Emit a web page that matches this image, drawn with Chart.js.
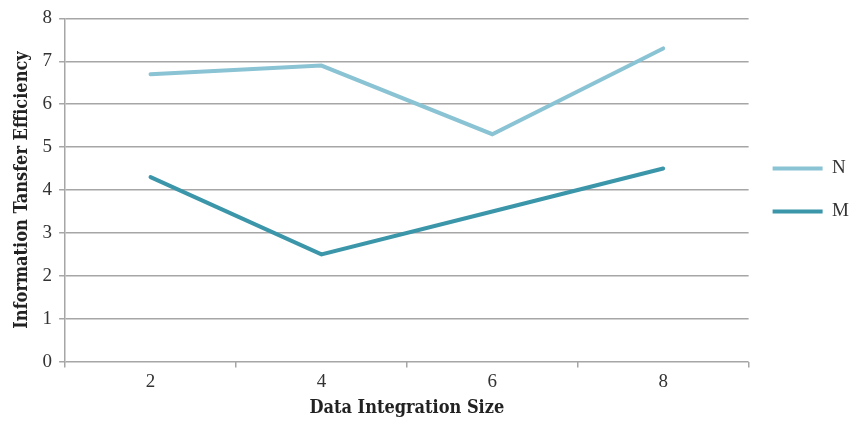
<!DOCTYPE html>
<html>
<head>
<meta charset="utf-8">
<script src="https://cdn.jsdelivr.net/npm/chart.js@4/dist/chart.umd.min.js"></script>
<style>
  html, body { margin: 0; padding: 0; background: #fff; }
  #wrap { width: 859px; height: 423px; }
</style>
</head>
<body>
<div id="wrap"><canvas id="c" width="859" height="423"></canvas></div>
<script>
const categories = ['2', '4', '6', '8'];
const seriesN = [6.7, 6.9, 5.3, 7.3];
const seriesM = [4.3, 2.5, 3.5, 4.5];
const yTicks = [0, 1, 2, 3, 4, 5, 6, 7, 8];

const TICK_FONT = '"Liberation Serif", serif';
const TITLE_FONT = '"DejaVu Serif Condensed", "DejaVu Serif", serif';
const GRID = '#a6a6a6';

new Chart(document.getElementById('c'), {
  type: 'line',
  data: {
    labels: categories,
    datasets: [
      { label: 'N', data: seriesN, borderColor: '#8ac3d3', backgroundColor: '#8ac3d3',
        borderWidth: 4, pointRadius: 0, tension: 0, borderCapStyle: 'round' },
      { label: 'M', data: seriesM, borderColor: '#3b96aa', backgroundColor: '#3b96aa',
        borderWidth: 4, pointRadius: 0, tension: 0, borderCapStyle: 'round' }
    ]
  },
  options: {
    responsive: false,
    animation: false,
    layout: { padding: { top: 13, right: 0, left: 8, bottom: 4 } },
    plugins: {
      legend: {
        position: 'right',
        align: 'center',
        fullSize: false,
        labels: {
          usePointStyle: true,
          pointStyle: 'line',
          pointStyleWidth: 50,
          boxHeight: 18,
          padding: 24,
          color: '#333',
          font: { family: TICK_FONT, size: 19 }
        }
      },
      tooltip: { enabled: false }
    },
    scales: {
      x: {
        type: 'category',
        offset: true,
        grid: { offset: true, drawOnChartArea: false, color: GRID, tickLength: 6, lineWidth: 1.5 },
        border: { display: false },
        ticks: { color: '#333', font: { family: TICK_FONT, size: 19 }, padding: 3 },
        title: { display: true, text: 'Data Integration Size', color: '#222',
                 font: { family: TITLE_FONT, size: 18, weight: 'bold' }, padding: { top: 1, bottom: 0 } }
      },
      y: {
        min: 0, max: 8,
        afterBuildTicks: axis => { axis.ticks = yTicks.map(v => ({ value: v })); },
        grid: { color: GRID, tickLength: 6, lineWidth: 1.5 },
        border: { display: true, color: GRID, width: 1.5 },
        ticks: { color: '#333', font: { family: TICK_FONT, size: 19 }, padding: 7 },
        title: { display: true, text: 'Information Tansfer Efficiency', color: '#222',
                 font: { family: TITLE_FONT, size: 18, weight: 'bold' }, padding: { bottom: 2 } }
      }
    }
  }
});
</script>
</body>
</html>
